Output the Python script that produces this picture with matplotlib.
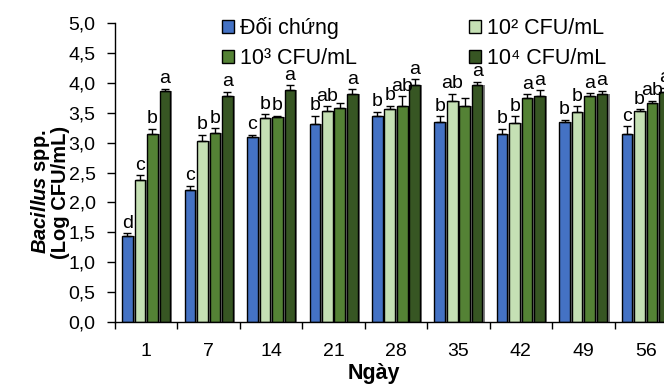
import numpy as np
import matplotlib
matplotlib.use("Agg")
import matplotlib.pyplot as plt
import matplotlib.ticker as tck

plt.rcParams["font.family"] = ["Liberation Sans", "DejaVu Sans"]
plt.rcParams["mathtext.fontset"] = "custom"
plt.rcParams["mathtext.it"] = "Liberation Sans:italic:bold"
plt.rcParams["mathtext.rm"] = "Liberation Sans:bold"

days = ["1", "7", "14", "21", "28", "35", "42", "49", "56"]
series = ["Đối chứng", "10² CFU/mL", "10³ CFU/mL", "10⁴ CFU/mL"]
colors = ["#4472C4", "#C5E0B4", "#548235", "#375623"]

control = [1.43, 2.20, 3.09, 3.31, 3.44, 3.34, 3.14, 3.35, 3.14]
cfu_e2 = [2.38, 3.03, 3.41, 3.53, 3.56, 3.70, 3.33, 3.52, 3.53]
cfu_e3 = [3.14, 3.16, 3.42, 3.58, 3.62, 3.61, 3.75, 3.78, 3.66]
cfu_e4 = [3.86, 3.78, 3.88, 3.82, 3.97, 3.97, 3.78, 3.81, 3.85]

err_control = [0.05, 0.08, 0.04, 0.14, 0.08, 0.10, 0.09, 0.03, 0.13]
err_e2 = [0.08, 0.10, 0.07, 0.08, 0.06, 0.12, 0.11, 0.09, 0.03]
err_e3 = [0.09, 0.08, 0.03, 0.09, 0.16, 0.13, 0.06, 0.05, 0.04]
err_e4 = [0.04, 0.07, 0.08, 0.07, 0.09, 0.05, 0.10, 0.06, 0.07]

let_control = ["d", "c", "c", "b", "b", "b", "b", "b", "c"]
let_e2 = ["c", "b", "b", "ab", "b", "ab", "b", "b", "b"]
let_e3 = ["b", "b", "b", "", "ab", "", "a", "a", "ab"]
let_e4 = ["a", "a", "a", "a", "a", "a", "a", "a", "a"]

values = [control, cfu_e2, cfu_e3, cfu_e4]
errors = [err_control, err_e2, err_e3, err_e4]
letters = [let_control, let_e2, let_e3, let_e4]

fig = plt.figure(figsize=(6.64, 3.91), dpi=100)
# plot area runs past the right edge, as in the cropped original
ax = fig.add_axes([115 / 664, 69 / 391, 562 / 664, 299 / 391])

x = np.arange(len(days))
width = 0.17
offsets = [-0.3, -0.1, 0.1, 0.3]

for vals, errs, labs, col, off, name in zip(values, errors, letters, colors, offsets, series):
    # grey shadow on the right of each bar
    ax.bar(x + off + 0.035, vals, width, color="#808080", zorder=1)
    ax.bar(x + off, vals, width, color=col, edgecolor="black", linewidth=1.0,
           zorder=2, label=name)
    ax.errorbar(x + off, vals, yerr=[np.zeros(len(vals)), errs], fmt="none",
                ecolor="black", elinewidth=1.0, capsize=3, capthick=1.0, zorder=3)
    for xi, v, e, s in zip(x + off, vals, errs, labs):
        if s:
            ax.annotate(s, (xi, v + e), xytext=(0, 1), textcoords="offset points",
                        ha="center", va="bottom", fontsize=14)

ax.set_xlim(-0.5, len(days) - 0.5)
ax.set_ylim(0, 5)
ax.set_xticks(x)
ax.set_xticklabels(days)
ax.xaxis.set_minor_locator(tck.FixedLocator(np.arange(len(days) + 1) - 0.5))
ax.tick_params(axis="x", which="major", length=0, pad=15, labelsize=14)
ax.tick_params(axis="x", which="minor", length=5, width=1, direction="out")
ax.yaxis.set_major_locator(tck.MultipleLocator(0.5))
ax.yaxis.set_major_formatter(tck.FuncFormatter(lambda v, p: ("%.1f" % v).replace(".", ",")))
ax.tick_params(axis="y", length=6, width=1, pad=8, labelsize=14)

for s in ["top", "right"]:
    ax.spines[s].set_visible(False)
for s in ["left", "bottom"]:
    ax.spines[s].set_linewidth(1.0)

fig.text(41 / 664, 1 - 192 / 391, r"$\mathit{Bacillus}$ spp.", rotation=90,
         ha="center", va="center", fontsize=14.5, fontweight="bold")
fig.text(61 / 664, 1 - 192 / 391, "(Log CFU/mL)", rotation=90,
         ha="center", va="center", fontsize=14.5, fontweight="bold")
fig.text(374 / 664, 1 - 374 / 391, "Ngày", ha="center", va="center",
         fontsize=15.5, fontweight="bold")

h, l = ax.get_legend_handles_labels()
order = [0, 2, 1, 3]
fig.legend([h[i] for i in order], [l[i] for i in order], ncol=2,
           loc="upper left", bbox_to_anchor=(211 / 664, 1 - 6 / 391),
           frameon=False, fontsize=15.5, handlelength=0.55, handleheight=0.55,
           handletextpad=0.3, columnspacing=5.2, labelspacing=0.45, borderpad=0)

fig.savefig("out.png", dpi=100)
